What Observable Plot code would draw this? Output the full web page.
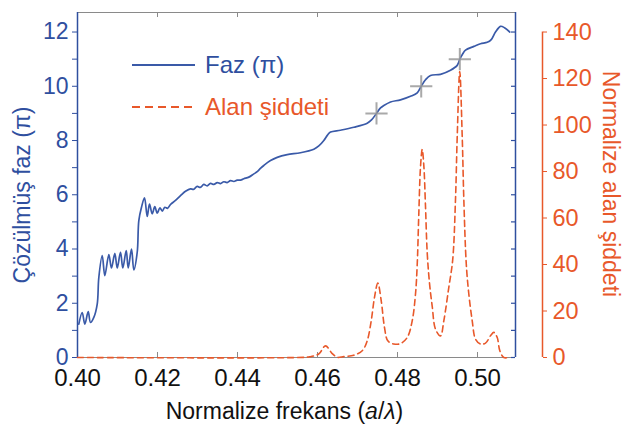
<!DOCTYPE html>
<html><head><meta charset="utf-8">
<script src="https://cdn.jsdelivr.net/npm/d3@7"></script>
<script src="https://cdn.jsdelivr.net/npm/@observablehq/plot@0.6"></script>
<style>
body{margin:0;background:#fff;}
#chart svg{font-family:"Liberation Sans",Arial,sans-serif;}
</style></head><body><div id="chart"></div>
<script>
// ---- data ----
const phaseX = [0.40033,0.40118,0.40183,0.40268,0.40325,0.40408,0.40493,0.40533,0.40618,0.40683,0.40783,0.40850,0.40933,0.40993,0.41075,0.41133,0.41218,0.41268,0.41350,0.41408,0.41493,0.41533,0.41600,0.41675,0.41743,0.41800,0.41868,0.41933,0.41993,0.42060,0.42120,0.42183,0.42250,0.42325,0.42450,0.42575,0.42700,0.42825,0.42900,0.42993,0.43070,0.43158,0.43240,0.43325,0.43410,0.43493,0.43575,0.43658,0.43740,0.43825,0.43910,0.43993,0.44075,0.44158,0.44283,0.44408,0.44493,0.44580,0.44658,0.44825,0.44993,0.45243,0.45575,0.45908,0.46033,0.46158,0.46250,0.46325,0.46575,0.46908,0.47243,0.47350,0.47475,0.47575,0.47658,0.47825,0.48075,0.48325,0.48493,0.48593,0.48700,0.48825,0.49075,0.49325,0.49493,0.49558,0.49625,0.49700,0.49908,0.50075,0.50243,0.50343,0.50450,0.50575,0.50675,0.50808];
const phaseY = [1.23,1.66,1.23,1.69,1.29,1.48,1.97,2.95,3.76,3.02,3.79,3.30,3.84,3.30,3.88,3.30,3.94,3.30,4.00,3.23,3.88,5.05,5.54,5.89,5.20,5.66,5.30,5.56,5.32,5.52,5.40,5.54,5.50,5.64,5.79,5.97,6.13,6.22,6.20,6.31,6.27,6.38,6.33,6.42,6.38,6.45,6.41,6.48,6.45,6.52,6.49,6.54,6.54,6.59,6.65,6.77,6.85,6.98,7.08,7.26,7.38,7.48,7.55,7.68,7.80,8.00,8.20,8.31,8.38,8.49,8.64,8.76,9.00,9.20,9.29,9.42,9.50,9.63,9.76,10.00,10.24,10.40,10.44,10.59,10.77,11.00,11.18,11.33,11.47,11.57,11.62,11.72,12.00,12.21,12.16,12.00];
const intensityX = [0.40000,0.45500,0.45800,0.46030,0.46200,0.46368,0.46493,0.46658,0.46908,0.47118,0.47243,0.47343,0.47425,0.47508,0.47593,0.47675,0.47758,0.47908,0.48075,0.48243,0.48368,0.48450,0.48493,0.48533,0.48575,0.48618,0.48660,0.48700,0.48743,0.48800,0.48868,0.48950,0.49075,0.49158,0.49283,0.49380,0.49450,0.49493,0.49556,0.49618,0.49658,0.49720,0.49783,0.49868,0.49950,0.50075,0.50200,0.50330,0.50408,0.50493,0.50558,0.50658,0.50783];
const intensityY = [0,0,0.3,1.5,5.0,1.7,0.1,0.4,1.0,2.9,7.2,15.8,25.9,32.0,24.4,12.9,7.2,5.8,6.0,8.6,15.8,27.3,40,62,82,89.5,82,65,45,32,22,12.2,9.3,15.8,30.2,42,68,95,123,95,68,40,27.3,15.8,7.9,5.8,6.2,9.5,10.8,8.6,2.9,0,0];
const markerX = [0.47475,0.48593,0.49558];
const markerY = [9,10,11];
const xTicks = [0.40,0.42,0.44,0.46,0.48,0.50];
const phaseTicks = [0,1,2,3,4,5,6,7,8,9,10,11,12];
const intensityTicks = [0,20,40,60,80,100,120,140];
const xDomain = [0.40,0.5095];
const phaseDomain = [0,12.72];
const intensityPerPhase = 140/12;   // right axis 140 aligned with left axis 12

const xTitle = "Normalize frekans (a/λ)";
const yTitle = "Çözülmüş faz (π)";
const y2Title = "Normalize alan şiddeti";
const legendLabels = ["Faz (π)","Alan şiddeti"];

// ---- styles ----
const BLUE = "#2f4f9f", LINEBLUE = "#3a5aa8", ORANGE = "#e8582a", GRAY = "#8a8a8a", CROSS = "#9a9a9a";

const phase = phaseX.map((x,i)=>({x, y: phaseY[i]}));
const intensity = intensityX.map((x,i)=>({x, y: intensityY[i]/intensityPerPhase}));
const markers = markerX.map((x,i)=>({x, y: markerY[i]}));

const plot = Plot.plot({
  width:624, height:428, marginLeft:77, marginRight:109, marginTop:12, marginBottom:71,
  style:{fontFamily:"Liberation Sans, Arial, sans-serif", background:"#fff", overflow:"visible"},
  x:{domain:xDomain},
  y:{domain:phaseDomain},
  marks:[
    // frame lines
    Plot.ruleY([phaseDomain[1]], {stroke:GRAY, strokeWidth:1}),
    Plot.ruleY([0], {stroke:GRAY, strokeWidth:1}),
    Plot.ruleX(xTicks.slice(1), {y1:phaseDomain[1], y2:phaseDomain[1], insetBottom:-5, stroke:GRAY}),
    Plot.ruleX(xTicks.slice(1), {y1:0, y2:0, insetTop:-5, stroke:GRAY}),
    Plot.ruleX([xDomain[0]], {stroke:BLUE, strokeWidth:1.5}),
    Plot.ruleX([xDomain[1]], {stroke:BLUE, strokeWidth:1.5}),
    Plot.ruleY(phaseTicks, {x1:xDomain[1], x2:xDomain[1], insetLeft:-4, stroke:BLUE, strokeWidth:1.2}),
    // axes
    Plot.axisX({ticks:xTicks, tickFormat:d3.format(".2f"), tickSize:0, tickPadding:11, fontSize:24, color:"#111", label:null}),
    Plot.axisY({ticks:phaseTicks, tickFormat:d=>d%2?"":d, anchor:"left", tickSize:5, tickPadding:4, fontSize:23, color:BLUE, label:null}),
    Plot.axisY({ticks:intensityTicks.map(d=>d/intensityPerPhase), tickFormat:d=>Math.round(d*intensityPerPhase), anchor:"right", dx:27, tickSize:4, tickPadding:6, fontSize:23.5, color:ORANGE, label:null}),
    Plot.ruleX([xDomain[1]], {y1:0, y2:intensityTicks[intensityTicks.length-1]/intensityPerPhase, dx:27, stroke:ORANGE, strokeWidth:1.5}),
    // titles
    Plot.text([xTitle], {frameAnchor:"bottom", textAnchor:"middle", lineAnchor:"middle", dx:-12, dy:54, fontSize:23, fill:"#111"}),
    Plot.text([yTitle], {frameAnchor:"left", textAnchor:"middle", lineAnchor:"middle", rotate:-90, dx:-55, dy:10, fontSize:23, fill:BLUE}),
    Plot.text([y2Title], {frameAnchor:"right", textAnchor:"middle", lineAnchor:"middle", rotate:90, dx:95, dy:-1, fontSize:23, fill:ORANGE}),
    // data
    Plot.line(intensity, {x:"x", y:"y", stroke:ORANGE, strokeWidth:1.6, strokeDasharray:"6,4", curve:"catmull-rom"}),
    Plot.line(phase, {x:"x", y:"y", stroke:LINEBLUE, strokeWidth:1.7, curve:"catmull-rom"}),
    Plot.dot(markers, {x:"x", y:"y", symbol:"plus", r:7.2, stroke:CROSS, strokeWidth:2, strokeOpacity:0.85})
  ]
});

const svg = d3.select(plot);
// italic a and λ in the x title
svg.selectAll("text").filter(function(){return this.textContent === xTitle;}).each(function(){
  const t = d3.select(this); t.text("");
  t.append("tspan").text("Normalize frekans (");
  t.append("tspan").attr("font-style","italic").text("a");
  t.append("tspan").text("/");
  t.append("tspan").attr("font-style","italic").text("λ");
  t.append("tspan").text(")");
});
// legend
const lg = svg.append("g").attr("font-family","Liberation Sans, Arial, sans-serif").attr("font-size",24).attr("text-anchor","start");
lg.append("line").attr("x1",132).attr("x2",195).attr("y1",65).attr("y2",65).attr("stroke",LINEBLUE).attr("stroke-width",2);
lg.append("text").attr("x",205).attr("y",65).attr("dy","0.35em").attr("fill",BLUE).text(legendLabels[0]);
lg.append("line").attr("x1",132).attr("x2",195).attr("y1",107).attr("y2",107).attr("stroke",ORANGE).attr("stroke-width",2).attr("stroke-dasharray","8,5");
lg.append("text").attr("x",205).attr("y",107).attr("dy","0.35em").attr("fill",ORANGE).text(legendLabels[1]);

document.getElementById("chart").appendChild(plot);
</script></body></html>
